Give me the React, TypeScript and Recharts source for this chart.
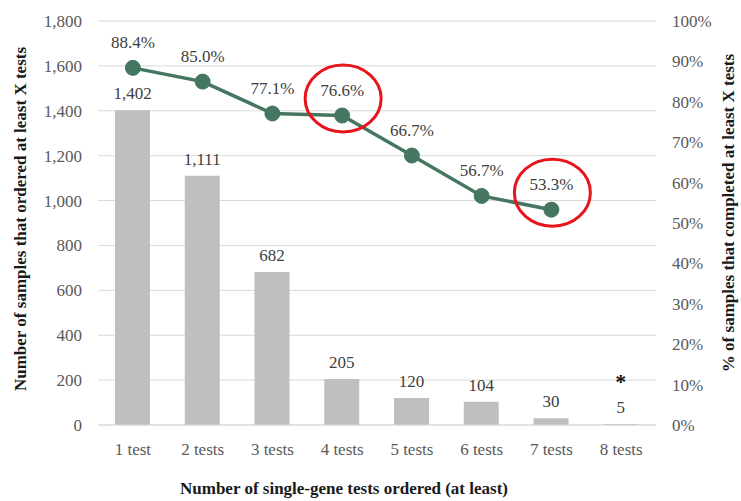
import React from 'react';
import { ComposedChart, Bar, Line, XAxis, YAxis, CartesianGrid, LabelList } from 'recharts';

// Number of single-gene tests ordered (at least X)
const categories = ['1 test', '2 tests', '3 tests', '4 tests', '5 tests', '6 tests', '7 tests', '8 tests'];
// Samples that ordered at least X tests
const sampleCounts = [1402, 1111, 682, 205, 120, 104, 30, 5];
// % of samples that completed at least X tests
const completionPct: (number | null)[] = [88.4, 85.0, 77.1, 76.6, 66.7, 56.7, 53.3, null];
// Points called out with a red ring
const highlightedTests = ['4 tests', '7 tests'];
// Footnote marker above a bar
const footnoteTests = ['8 tests'];

const countTicks = [0, 200, 400, 600, 800, 1000, 1200, 1400, 1600, 1800];
const pctTicks = [0, 10, 20, 30, 40, 50, 60, 70, 80, 90, 100];

const data = categories.map((category, i) => ({
  category,
  samples: sampleCounts[i],
  pct: completionPct[i],
  highlight: highlightedTests.includes(category),
  note: footnoteTests.includes(category) ? '*' : '',
}));

const FONT = "'Liberation Serif', 'Times New Roman', serif";
const LINE_COLOR = '#45765f';
const BAR_COLOR = '#bfbfbf';
const TICK_COLOR = '#595959';
const LABEL_COLOR = '#404040';
const TITLE_COLOR = '#1a1a1a';

const tickStyle = { fontSize: 17, fill: TICK_COLOR, fontFamily: FONT };

const renderDot = (props: any) => {
  const { cx, cy, payload, index } = props;
  if (cx == null || cy == null || payload.pct == null) return <g key={`dot-${index}`} />;
  return (
    <g key={`dot-${index}`}>
      <circle cx={cx} cy={cy} r={7.5} fill={LINE_COLOR} stroke={LINE_COLOR} />
      {payload.highlight && (
        <ellipse cx={cx + 1} cy={cy - 17} rx={38} ry={33.5} fill="none" stroke="#e8141b" strokeWidth={3} />
      )}
    </g>
  );
};

const renderNote = (props: any) => {
  const { x, y, width, value } = props;
  if (!value) return null;
  return (
    <text
      x={x + width / 2}
      y={y - 35}
      textAnchor="middle"
      fontFamily={FONT}
      fontWeight="bold"
      fontSize={22}
      fill="#111"
    >
      {value}
    </text>
  );
};

const axisTitle = (text: string, offsetX: number, offsetY: number) => (props: any) => {
  const vb = props.viewBox || {};
  const x = vb.x + offsetX;
  const y = offsetY;
  return (
    <text
      x={x}
      y={y}
      transform={`rotate(-90, ${x}, ${y})`}
      textAnchor="middle"
      dominantBaseline="central"
      fontFamily={FONT}
      fontWeight="bold"
      fontSize={17}
      fill={TITLE_COLOR}
    >
      {text}
    </text>
  );
};

export default function App() {
  return (
    <div
      style={{
        position: 'absolute',
        left: 0,
        top: 0,
        width: 741,
        height: 501,
        background: '#fff',
        fontFamily: FONT,
      }}
    >
      <ComposedChart
        width={741}
        height={501}
        data={data}
        margin={{ top: 21, right: 0, bottom: 0, left: 0 }}
        barCategoryGap="25%"
      >
        <CartesianGrid vertical={false} stroke="#d9d9d9" yAxisId="left" />
        <XAxis
          dataKey="category"
          height={76}
          tickSize={0}
          tickMargin={18}
          tickLine={false}
          axisLine={{ stroke: '#d9d9d9' }}
          tick={tickStyle}
          interval={0}
          label={{
            value: 'Number of single-gene tests ordered (at least)',
            position: 'insideBottom',
            offset: 7,
            dx: -33,
            style: { fontFamily: FONT, fontWeight: 'bold', fontSize: 17, fill: TITLE_COLOR },
          }}
        />
        <YAxis
          yAxisId="left"
          orientation="left"
          width={98}
          domain={[0, 1800]}
          ticks={countTicks}
          interval={0}
          tickSize={0}
          tickMargin={16}
          tickLine={false}
          axisLine={false}
          tick={tickStyle}
          tickFormatter={(v: number) => v.toLocaleString('en-US')}
          label={{ content: axisTitle('Number of samples that ordered at least X tests', 20, 219) }}
        />
        <YAxis
          yAxisId="right"
          orientation="right"
          width={85}
          domain={[0, 100]}
          ticks={pctTicks}
          interval={0}
          tickSize={0}
          tickMargin={16}
          tickLine={false}
          axisLine={false}
          tick={tickStyle}
          tickFormatter={(v: number) => `${v}%`}
          label={{ content: axisTitle('% of samples that completed at least X tests', 72, 213) }}
        />
        <Bar yAxisId="left" dataKey="samples" fill={BAR_COLOR} barSize={35} isAnimationActive={false}>
          <LabelList
            dataKey="samples"
            position="top"
            offset={11}
            formatter={(v: any) => Number(v).toLocaleString('en-US')}
            style={{ fontFamily: FONT, fontSize: 17, fill: LABEL_COLOR }}
          />
          <LabelList dataKey="note" content={renderNote} />
        </Bar>
        <Line
          yAxisId="right"
          dataKey="pct"
          stroke={LINE_COLOR}
          strokeWidth={3.5}
          dot={renderDot}
          activeDot={false}
          connectNulls={false}
          isAnimationActive={false}
        >
          <LabelList
            dataKey="pct"
            position="top"
            offset={20}
            formatter={(v: any) => (v == null ? '' : `${Number(v).toFixed(1)}%`)}
            style={{ fontFamily: FONT, fontSize: 17, fill: LABEL_COLOR }}
          />
        </Line>
      </ComposedChart>
    </div>
  );
}
